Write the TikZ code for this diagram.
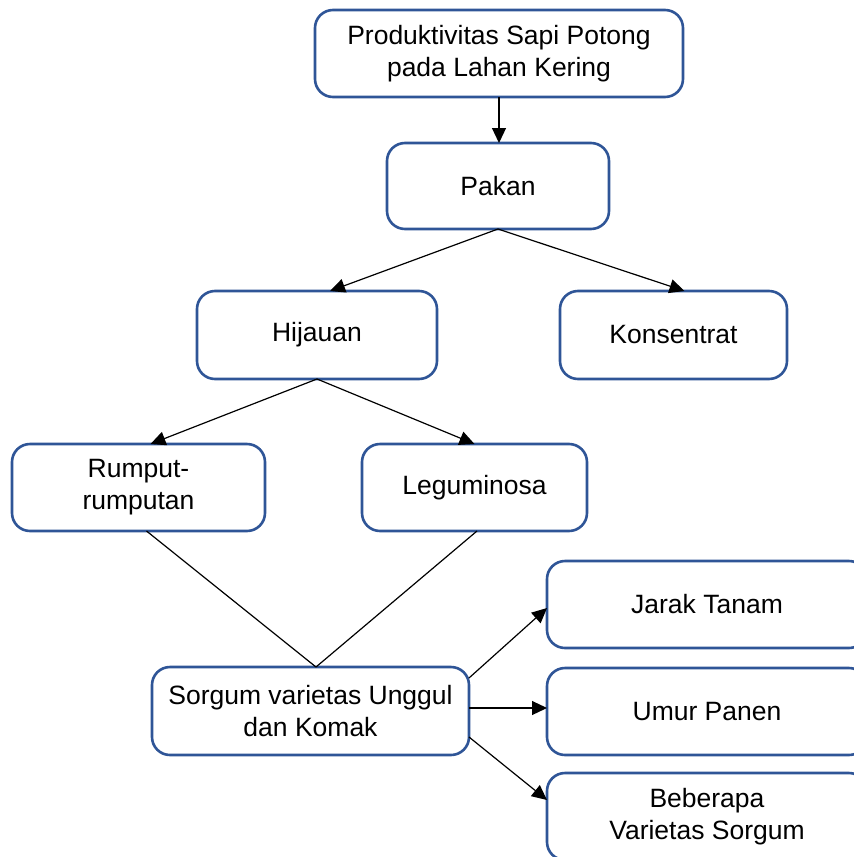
\documentclass[tikz,border=0pt]{standalone}
\usepackage{fontspec}
\setmainfont{Liberation Sans}
\usetikzlibrary{arrows.meta}
\definecolor{boxblue}{RGB}{47,85,151}
\begin{document}
\begin{tikzpicture}[x=1pt,y=-1pt,
  box/.style={draw=boxblue, line width=2.6pt, rounded corners=18pt, fill=white,
    rectangle, inner sep=0pt, outer sep=0pt, align=center,
    font=\fontsize{26.5}{32}\selectfont},
  link/.style={line width=1.2pt, black},
  arr/.style={link, -{Triangle[length=15pt,width=14pt]}}]
\useasboundingbox (0,0) rectangle (854,857);
\clip (0,0) rectangle (854,857);
% boxes
\node[box, minimum width=368pt, minimum height=87pt] (prod) at (499,53.5)
  {Produktivitas Sapi Potong\\pada Lahan Kering};
\node[box, minimum width=222pt, minimum height=86pt] (pakan) at (498,186) {Pakan};
\node[box, minimum width=240pt, minimum height=88pt] (hij) at (317,335) {Hijauan};
\node[box, minimum width=227pt, minimum height=88pt] (kons) at (673.5,335) {Konsentrat};
\node[box, minimum width=253pt, minimum height=87pt] (rump) at (138.5,487.5) {Rumput-\\rumputan};
\node[box, minimum width=225pt, minimum height=87pt] (legu) at (474.5,487.5) {Leguminosa};
\node[box, minimum width=317pt, minimum height=88pt] (sorg) at (310.5,711) {Sorgum varietas Unggul\\dan Komak};
\node[box, minimum width=320pt, minimum height=87pt] (jarak) at (707,604.5) {Jarak Tanam};
\node[box, minimum width=320pt, minimum height=87pt] (umur) at (707,711.5) {Umur Panen};
\node[box, minimum width=320pt, minimum height=87pt] (bebe) at (707,816.5) {Beberapa\\Varietas Sorgum};
% connectors
\draw[arr] (prod.south) -- (prod.south |- pakan.north);
\draw[arr] (pakan.south) -- ([xshift=13pt]hij.north);
\draw[arr] (pakan.south) -- ([xshift=11pt]kons.north);
\draw[arr] (hij.south) -- ([xshift=12pt]rump.north);
\draw[arr] (hij.south) -- (legu.north);
\draw[link] ([xshift=8pt]rump.south) -- ([xshift=5.5pt]sorg.north);
\draw[link] ([xshift=2.5pt]legu.south) -- ([xshift=5.5pt]sorg.north);
\draw[arr] ([yshift=33pt]sorg.east) -- ([yshift=-3.5pt]jarak.west);
\draw[arr] ([yshift=3pt]sorg.east) -- ([yshift=3.5pt]umur.west);
\draw[arr] ([yshift=-26pt]sorg.east) -- ([yshift=16.5pt]bebe.west);
\end{tikzpicture}
\end{document}
